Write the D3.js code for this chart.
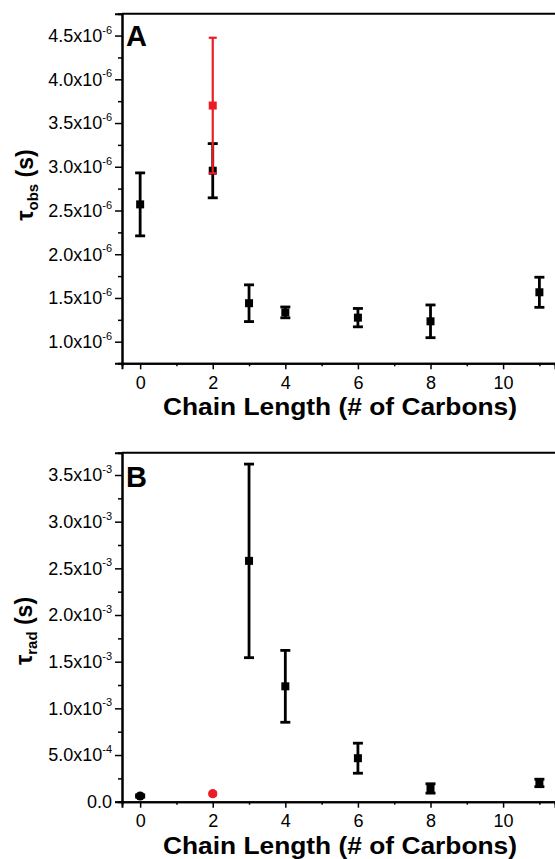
<!DOCTYPE html>
<html>
<head>
<meta charset="utf-8">
<script src="https://cdn.jsdelivr.net/npm/d3@7"></script>
<style>
  html, body { margin: 0; padding: 0; background: #fff; }
  svg { display: block; }
  text { font-family: "Liberation Sans", Arial, Helvetica, sans-serif; }
</style>
</head>
<body>
<svg id="chart" width="555" height="859"></svg>
<script>
// ---------------- DATA ----------------
// Panel A: tau_obs (s)
const aBlackX   = [0, 2, 3, 4, 6, 8, 11];
const aBlackVal = [2.57e-6, 2.955e-6, 1.44e-6, 1.335e-6, 1.275e-6, 1.233e-6, 1.565e-6];
const aBlackErr = [0.36e-6, 0.31e-6, 0.21e-6, 0.062e-6, 0.105e-6, 0.187e-6, 0.172e-6];
const aRedX     = [2];
const aRedVal   = [3.70e-6];
const aRedErr   = [0.775e-6];
const aYTicks   = [1.0e-6, 1.5e-6, 2.0e-6, 2.5e-6, 3.0e-6, 3.5e-6, 4.0e-6, 4.5e-6];
const aYLabels  = [["1.0x10","-6"],["1.5x10","-6"],["2.0x10","-6"],["2.5x10","-6"],["3.0x10","-6"],["3.5x10","-6"],["4.0x10","-6"],["4.5x10","-6"]];

// Panel B: tau_rad (s)
const bBlackX   = [0, 3, 4, 6, 8, 11];
const bBlackVal = [0.061e-3, 2.58e-3, 1.236e-3, 0.466e-3, 0.142e-3, 0.201e-3];
const bBlackErr = [0.012e-3, 1.037e-3, 0.385e-3, 0.161e-3, 0.05e-3, 0.04e-3];
const bRedX     = [2];
const bRedVal   = [0.086e-3];
const bRedErr   = [0.018e-3];
const bYTicks   = [0, 0.5e-3, 1.0e-3, 1.5e-3, 2.0e-3, 2.5e-3, 3.0e-3, 3.5e-3];
const bYLabels  = [["0.0",""],["5.0x10","-4"],["1.0x10","-3"],["1.5x10","-3"],["2.0x10","-3"],["2.5x10","-3"],["3.0x10","-3"],["3.5x10","-3"]];

const xTicks    = [0, 2, 4, 6, 8, 10];
const xTitle    = "Chain Length (# of Carbons)";

// ---------------- STYLE ----------------
const RED = "#ec1c24";
const bBlackShapes = ["circle", "square", "square", "square", "square", "square"];

const svg = d3.select("#chart");

function panel(cfg) {
  const g = svg.append("g");
  const x = d3.scaleLinear().domain([-0.5, 11.43]).range([122, 555]);
  const y = d3.scaleLinear().domain(cfg.yDomain).range([cfg.bottom, cfg.top]);

  // top frame line
  g.append("line").attr("x1", 122).attr("x2", 555).attr("y1", cfg.top).attr("y2", cfg.top)
    .attr("stroke", "#000").attr("stroke-width", 2);

  // x axis
  const xMinor = d3.range(0, 12, 1).filter(v => v % 2 === 1);
  const xg = g.append("g").attr("transform", `translate(0,${cfg.bottom})`);
  xg.call(d3.axisBottom(x).tickValues(xMinor).tickSize(3).tickFormat(""));
  xg.call(g2 => g2.append("g").call(d3.axisBottom(x).tickValues(xTicks).tickSize(6).tickPadding(7).tickFormat(d3.format("d"))));
  xg.selectAll(".domain").attr("stroke-width", 2);
  xg.selectAll(".tick line").attr("stroke-width", 1.5);
  xg.selectAll("text").attr("font-size", 18).attr("fill", "#000");

  // y axis
  const step = cfg.yTicks[1] - cfg.yTicks[0];
  const yMinor = cfg.yTicks.map(v => v + step / 2).filter(v => v < cfg.yDomain[1]);
  if (cfg.yTicks[0] - step / 2 > cfg.yDomain[0]) yMinor.push(cfg.yTicks[0] - step / 2);
  const yg = g.append("g").attr("transform", "translate(122,0)");
  yg.call(d3.axisLeft(y).tickValues(yMinor).tickSize(4).tickFormat(""));
  yg.call(g2 => g2.append("g").call(d3.axisLeft(y).tickValues(cfg.yTicks).tickSize(7).tickFormat("")));
  yg.selectAll(".domain").attr("stroke-width", 2);
  yg.selectAll(".tick line").attr("stroke-width", 1.5);

  // y tick labels with superscripts
  cfg.yTicks.forEach((v, i) => {
    const t = g.append("text").attr("x", 112).attr("y", y(v)).attr("dy", "0.35em")
      .attr("text-anchor", "end").attr("font-size", 18).attr("fill", "#000");
    t.append("tspan").text(cfg.yLabels[i][0]);
    if (cfg.yLabels[i][1]) {
      t.append("tspan").attr("font-size", 11).attr("dy", "-0.75em").text(cfg.yLabels[i][1]);
    }
  });

  // x title
  g.append("text").attr("x", 340).attr("y", cfg.bottom + 52).attr("text-anchor", "middle")
    .attr("font-size", 23).attr("font-weight", "bold").attr("fill", "#000")
    .attr("textLength", 354).attr("lengthAdjust", "spacingAndGlyphs")
    .text(xTitle);

  // y title
  const yt = g.append("text")
    .attr("transform", `translate(${cfg.yTitleX},${cfg.yTitleY}) rotate(-90)`)
    .attr("text-anchor", "middle").attr("font-size", 23).attr("font-weight", "bold").attr("fill", "#000");
  yt.append("tspan").text("τ");
  yt.append("tspan").attr("font-size", 15).attr("dy", 5).text(cfg.sub);
  yt.append("tspan").attr("dy", -5).text(" (s)");

  // panel letter
  g.append("text").attr("x", 126).attr("y", cfg.letterY).attr("font-size", 29)
    .attr("font-weight", "bold").attr("fill", "#000").text(cfg.letter);

  // series
  function series(xs, vals, errs, color, shapes, lw, capW) {
    const sg = g.append("g");
    xs.forEach((xv, i) => {
      const cx = x(xv), y0 = y(vals[i] - errs[i]), y1 = y(vals[i] + errs[i]);
      sg.append("line").attr("x1", cx).attr("x2", cx).attr("y1", y0).attr("y2", y1)
        .attr("stroke", color).attr("stroke-width", lw);
      [y0, y1].forEach(yy => sg.append("line").attr("x1", cx - capW / 2).attr("x2", cx + capW / 2)
        .attr("y1", yy).attr("y2", yy).attr("stroke", color).attr("stroke-width", lw));
      const cy = y(vals[i]);
      if (shapes[i] === "circle") {
        sg.append("circle").attr("cx", cx).attr("cy", cy).attr("r", 4.6).attr("fill", color);
      } else {
        sg.append("rect").attr("x", cx - 4).attr("y", cy - 4).attr("width", 8).attr("height", 8).attr("fill", color);
      }
    });
  }
  cfg.series.forEach(s => series(...s));
}

panel({
  top: 13.7, bottom: 363.3, yDomain: [0.753e-6, 4.75e-6],
  yTicks: aYTicks, yLabels: aYLabels, sub: "obs",
  yTitleX: 33, yTitleY: 185, letter: "A", letterY: 46,
  series: [
    [aBlackX, aBlackVal, aBlackErr, "#000", aBlackX.map(() => "square"), 2.8, 10],
    [aRedX, aRedVal, aRedErr, RED, ["square"], 2.2, 8]
  ]
});

panel({
  top: 452.7, bottom: 801.7, yDomain: [0, 3.739e-3],
  yTicks: bYTicks, yLabels: bYLabels, sub: "rad",
  yTitleX: 32, yTitleY: 631, letter: "B", letterY: 487,
  series: [
    [bBlackX, bBlackVal, bBlackErr, "#000", bBlackShapes, 2.8, 10],
    [bRedX, bRedVal, bRedErr, RED, ["circle"], 2.2, 8]
  ]
});
</script>
</body>
</html>
